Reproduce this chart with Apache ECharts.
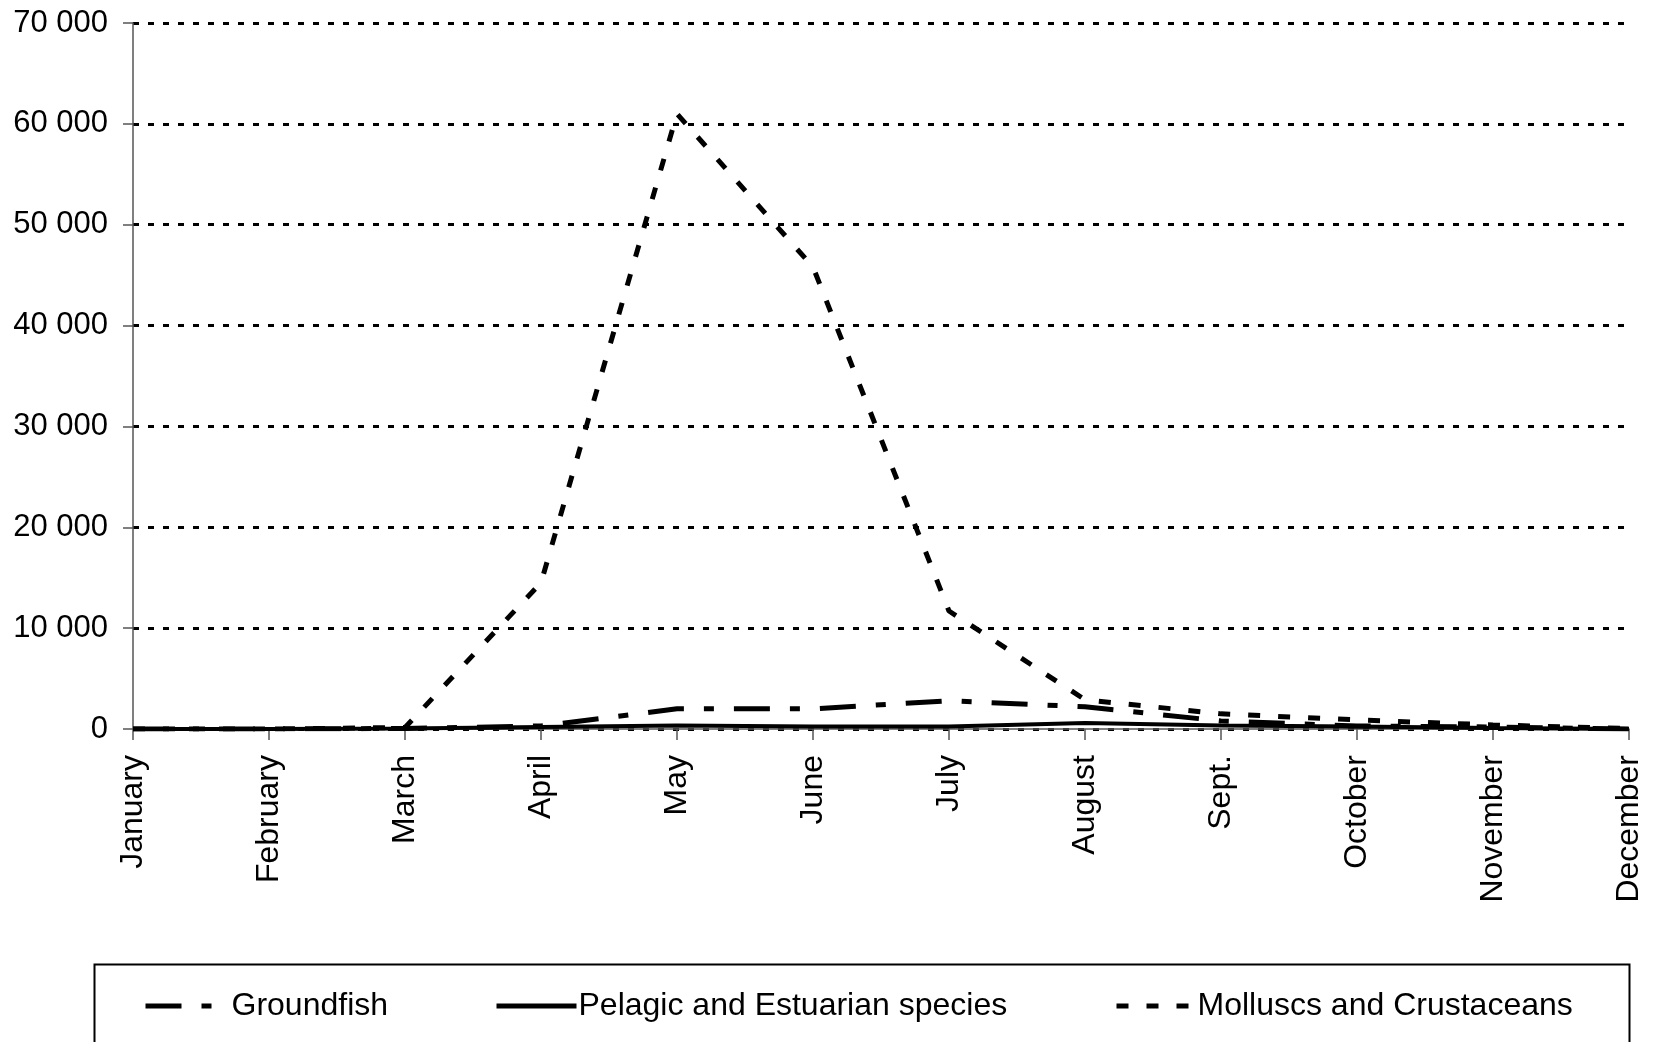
<!DOCTYPE html>
<html>
<head>
<meta charset="utf-8">
<script src="https://cdn.jsdelivr.net/npm/echarts@6/dist/echarts.min.js"></script>
<style>
html,body{margin:0;padding:0;background:#fff;}
#chart{width:1654px;height:1042px;}
</style>
</head>
<body>
<div id="chart"></div>
<script>
var months = ['January','February','March','April','May','June','July','August','Sept.','October','November','December'];
var groundfish = [0, 0, 50, 300, 2000, 2000, 2800, 2200, 800, 300, 200, 0];
var pelagic = [0, 0, 50, 200, 350, 250, 250, 600, 350, 250, 100, 0];
var molluscs = [0, 0, 150, 14500, 61000, 45800, 11700, 2900, 1500, 900, 400, 50];
var yTicks = {min: 0, max: 70000, interval: 10000};

var FONT = '"Liberation Sans", Arial, sans-serif';
var chart = echarts.init(document.getElementById('chart'), null, {renderer: 'canvas'});

function fmt(v){ return String(v).replace(/\B(?=(\d{3})+(?!\d))/g, ' '); }

function mkLegend(name, left, iw, lw, pad){
  return {
    orient: 'horizontal',
    top: 990,
    left: left,
    padding: 0,
    itemWidth: iw,
    itemHeight: 30,
    selectedMode: false,
    data: [name],
    lineStyle: {width: lw},
    itemStyle: {color: 'rgba(0,0,0,0)', borderWidth: 0, opacity: 0},
    textStyle: {fontFamily: FONT, fontSize: 32, color: '#000', padding: [0, 0, 0, pad]}
  };
}

var option = {
  animation: false,
  backgroundColor: '#fff',
  grid: {left: 133, right: 25, top: 23, bottom: 313, containLabel: false},
  graphic: [{
    type: 'rect',
    left: 92, top: 962,
    shape: {width: 1535, height: 120},
    style: {fill: 'none', stroke: '#000', lineWidth: 2},
    silent: true, z: -1
  }],
  legend: [
    mkLegend('Groundfish', 143, 66, 5, 15),
    mkLegend('Pelagic and Estuarian species', 494, 80, 5, -3),
    mkLegend('Molluscs and Crustaceans', 1114, 74, 5, 2)
  ],
  xAxis: {
    type: 'category',
    data: months,
    boundaryGap: false,
    axisLine: {show: true, lineStyle: {color: '#555', width: 1.5}},
    axisTick: {show: true, alignWithLabel: true, length: 11, lineStyle: {color: '#555', width: 1.5}},
    axisLabel: {rotate: 90, interval: 0, margin: 26, fontFamily: FONT, fontSize: 32, color: '#000'},
    splitLine: {show: false}
  },
  yAxis: {
    type: 'value',
    min: yTicks.min, max: yTicks.max, interval: yTicks.interval,
    axisLine: {show: true, lineStyle: {color: '#555', width: 1.5}},
    axisTick: {show: true, length: 10, lineStyle: {color: '#555', width: 1.5}},
    axisLabel: {formatter: fmt, margin: 25, fontFamily: FONT, fontSize: 31, color: '#000'},
    splitLine: {show: true, lineStyle: {color: '#000', width: 3, type: [6, 9]}}
  },
  series: [
    {
      name: 'Groundfish', type: 'line', data: groundfish,
      symbol: 'none', showSymbol: false,
      lineStyle: {color: '#000', width: 5, type: [36, 20, 10, 20]},
      itemStyle: {color: '#000'}, z: 3
    },
    {
      name: 'Pelagic and Estuarian species', type: 'line', data: pelagic,
      symbol: 'none', showSymbol: false,
      lineStyle: {color: '#000', width: 4, type: 'solid'},
      itemStyle: {color: '#000'}, z: 4
    },
    {
      name: 'Molluscs and Crustaceans', type: 'line', data: molluscs,
      symbol: 'none', showSymbol: false,
      lineStyle: {color: '#000', width: 5, type: [12, 18]},
      itemStyle: {color: '#000'}, z: 2
    }
  ]
};
chart.setOption(option);
</script>
</body>
</html>
